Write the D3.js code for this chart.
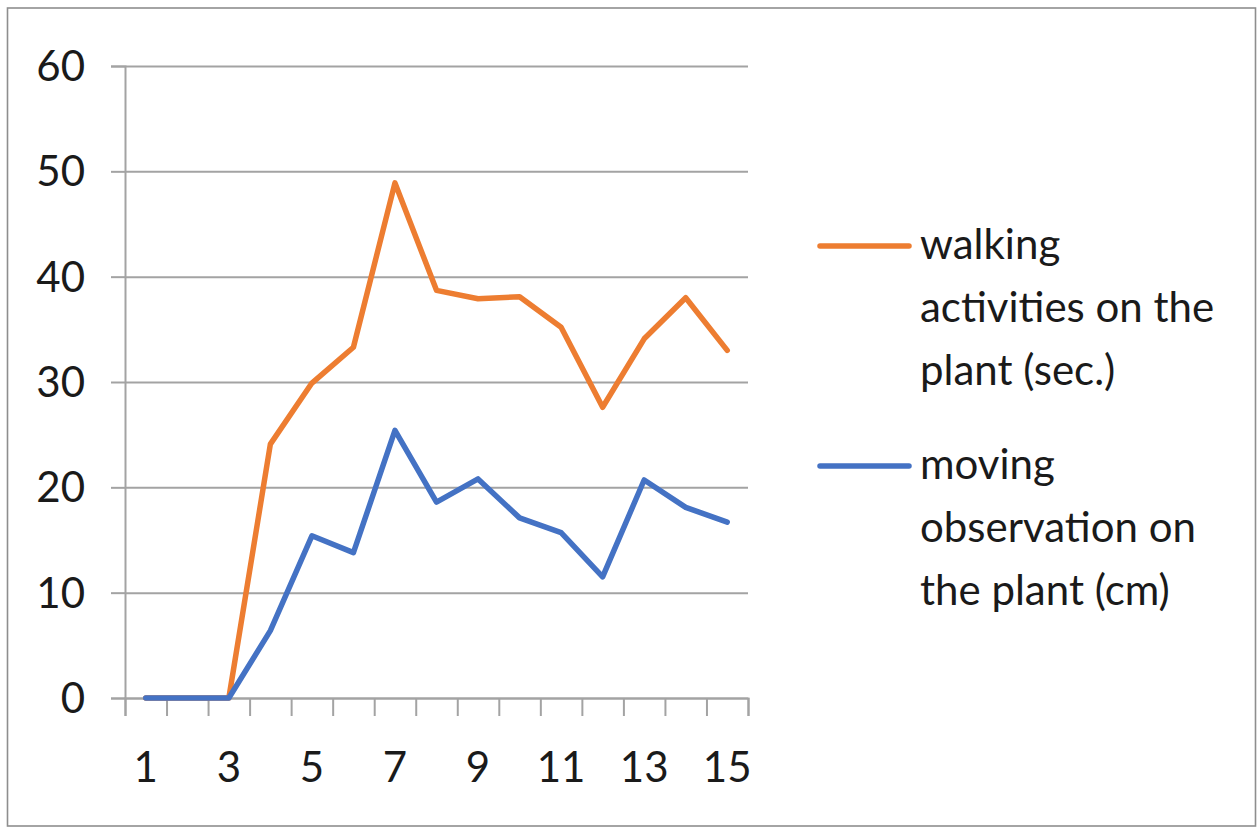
<!DOCTYPE html>
<html>
<head>
<meta charset="utf-8">
<script src="https://cdn.jsdelivr.net/npm/d3@7"></script>
<style>
  body { margin: 0; background: #fff; }
  svg text { font-family: Lato, "Open Sans", sans-serif; fill: #1a1a1a; }
</style>
</head>
<body>
<div id="chart"></div>
<script>
// categories (days) and the two series
const days = [1, 2, 3, 4, 5, 6, 7, 8, 9, 10, 11, 12, 13, 14, 15];
const walking = [0, 0, 0, 24.1, 29.9, 33.3, 48.9, 38.7, 37.9, 38.1, 35.2, 27.6, 34.1, 38.0, 33.0];
const moving = [0, 0, 0, 6.4, 15.4, 13.8, 25.4, 18.6, 20.8, 17.1, 15.7, 11.5, 20.7, 18.1, 16.7];
const yTicks = [0, 10, 20, 30, 40, 50, 60];
const xLabels = [1, 3, 5, 7, 9, 11, 13, 15];
const seriesNames = [
  ['walking', 'activities on the', 'plant (sec.)'],
  ['moving', 'observation on', 'the plant (cm)']
];
const seriesColors = ['#ED7D31', '#4472C4'];

const width = 1257, height = 828;
const plot = { left: 125, right: 748, top: 66, bottom: 698 };

const svg = d3.select('#chart').append('svg')
  .attr('width', width)
  .attr('height', height);

// outer frame
svg.append('rect')
  .attr('x', 7.5).attr('y', 8)
  .attr('width', 1248).attr('height', 818)
  .attr('fill', '#fff')
  .attr('stroke', '#8e8e8e')
  .attr('stroke-width', 1.6);

const x = d3.scaleBand()
  .domain(days)
  .range([plot.left, plot.right])
  .padding(0);

const xEdges = d3.scaleLinear()
  .domain([0, days.length])
  .range([plot.left, plot.right]);

const y = d3.scaleLinear()
  .domain([0, 60])
  .range([plot.bottom, plot.top]);

// gridlines + y ticks
svg.append('g')
  .attr('transform', `translate(${plot.left},0)`)
  .call(d3.axisLeft(y).tickValues(yTicks).tickSize(-(plot.right - plot.left)).tickFormat(''))
  .call(g => g.select('.domain').remove())
  .call(g => g.selectAll('line').attr('stroke', '#a3a3a3').attr('stroke-width', 2));

// small tick stubs to the left
svg.append('g')
  .attr('transform', `translate(${plot.left},0)`)
  .call(d3.axisLeft(y).tickValues(yTicks).tickSize(14).tickFormat(''))
  .call(g => g.select('.domain').attr('stroke', '#a3a3a3').attr('stroke-width', 2))
  .call(g => g.selectAll('line').attr('stroke', '#a3a3a3').attr('stroke-width', 2));

// y labels
svg.append('g').selectAll('text')
  .data(yTicks)
  .enter().append('text')
  .attr('x', 85)
  .attr('y', d => y(d) + 15)
  .attr('text-anchor', 'end')
  .attr('font-size', '42px')
  .text(d => d);

// x axis ticks between categories
svg.append('g')
  .attr('transform', `translate(0,${plot.bottom})`)
  .call(d3.axisBottom(xEdges).tickValues(d3.range(days.length + 1)).tickSize(18).tickFormat(''))
  .call(g => g.select('.domain').attr('stroke', '#a3a3a3').attr('stroke-width', 2))
  .call(g => g.selectAll('line').attr('stroke', '#a3a3a3').attr('stroke-width', 2));

// x labels (odd days)
svg.append('g').selectAll('text')
  .data(xLabels)
  .enter().append('text')
  .attr('x', d => x(d) + x.bandwidth() / 2)
  .attr('y', 782)
  .attr('text-anchor', 'middle')
  .attr('font-size', '42px')
  .text(d => d);

const line = d3.line()
  .x((d, i) => x(days[i]) + x.bandwidth() / 2)
  .y(d => y(d));

[walking, moving].forEach((vals, i) => {
  svg.append('path')
    .datum(vals)
    .attr('d', line)
    .attr('fill', 'none')
    .attr('stroke', seriesColors[i])
    .attr('stroke-width', 5.5)
    .attr('stroke-linejoin', 'round')
    .attr('stroke-linecap', 'round');
});

// legend
const legendY = [246, 466];
seriesNames.forEach((lines, i) => {
  const g = svg.append('g');
  g.append('line')
    .attr('x1', 820).attr('x2', 909)
    .attr('y1', legendY[i]).attr('y2', legendY[i])
    .attr('stroke', seriesColors[i])
    .attr('stroke-width', 5.5)
    .attr('stroke-linecap', 'round');
  g.selectAll('text')
    .data(lines)
    .enter().append('text')
    .attr('x', 920)
    .attr('y', (d, j) => legendY[i] + 13 + j * 63)
    .attr('font-size', '42px')
    .text(d => d);
});
</script>
</body>
</html>
